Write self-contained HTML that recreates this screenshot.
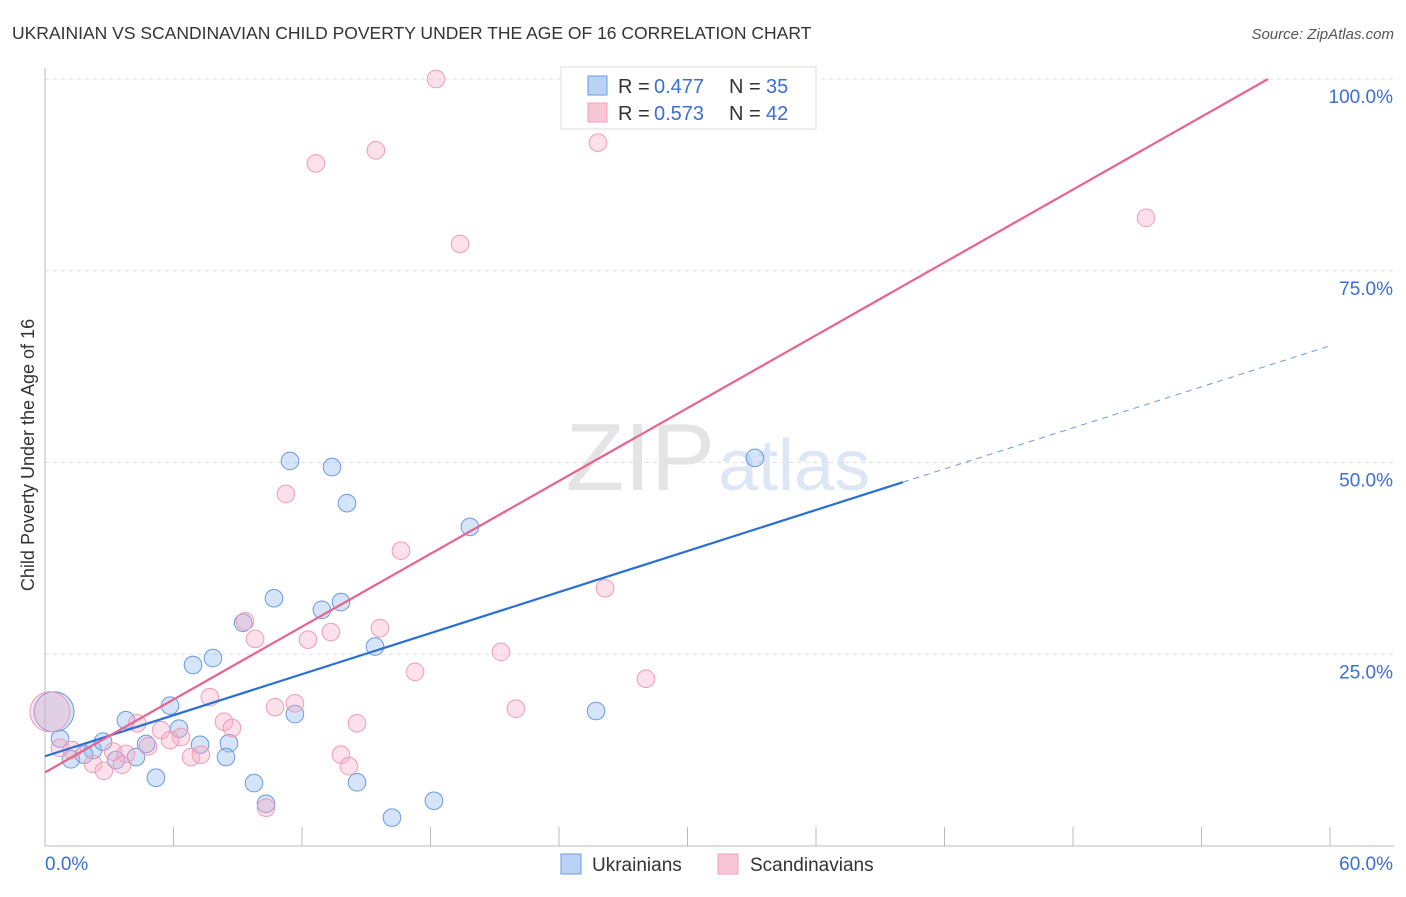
<!DOCTYPE html>
<html><head><meta charset="utf-8"><style>
body{margin:0;background:#fff;font-family:"Liberation Sans",sans-serif;}
svg text{font-family:"Liberation Sans",sans-serif;}
</style></head><body>
<svg width="1406" height="892" xmlns="http://www.w3.org/2000/svg">
<text x="12" y="39" font-size="17.5" fill="#333">UKRAINIAN VS SCANDINAVIAN CHILD POVERTY UNDER THE AGE OF 16 CORRELATION CHART</text>
<text x="1394" y="39" font-size="15" fill="#555" font-style="italic" text-anchor="end">Source: ZipAtlas.com</text>
<g id="grid"></g>
<text x="715" y="490" font-size="96" fill="#e4e4e4" text-anchor="end" font-family="Liberation Serif">ZIP</text>
<text x="718" y="490" font-size="72" fill="#dce6f4">atlas</text>
<g id="marks"></g>
<text transform="translate(34,455) rotate(-90)" font-size="18" fill="#333" text-anchor="middle">Child Poverty Under the Age of 16</text>
<g>
<rect x="561" y="67" width="255" height="62" fill="#fff" stroke="#ddd"/>
<rect x="588" y="76" width="19" height="19" fill="#b9d2f5" stroke="#6a9ae0"/>
<rect x="588" y="103" width="19" height="19" fill="#f9c6d6" stroke="#f0a0b8"/>
<text x="618" y="93" font-size="20" fill="#333">R =</text><text x="654" y="93" font-size="20" fill="#3a6fd4">0.477</text>
<text x="729" y="93" font-size="20" fill="#333">N =</text><text x="766" y="93" font-size="20" fill="#3a6fd4">35</text>
<text x="618" y="120" font-size="20" fill="#333">R =</text><text x="654" y="120" font-size="20" fill="#3a6fd4">0.573</text>
<text x="729" y="120" font-size="20" fill="#333">N =</text><text x="766" y="120" font-size="20" fill="#3a6fd4">42</text>
</g>
<g>
<rect x="561" y="854" width="20" height="20" fill="#b9d2f5" stroke="#6a9ae0"/>
<text x="592" y="871" font-size="19" fill="#333">Ukrainians</text>
<rect x="718" y="854" width="20" height="20" fill="#f9c6d6" stroke="#f0a0b8"/>
<text x="750" y="871" font-size="19" fill="#333">Scandinavians</text>
</g>
</svg>
<script>
const blueX=[11.44,13.40,14.10,19.84,33.15,10.69,12.93,13.82,9.25,15.41,6.91,7.84,5.84,3.78,6.26,11.67,4.72,7.24,8.59,0.70,1.21,2.24,2.71,3.32,4.25,5.18,8.45,9.76,10.32,14.57,16.20,18.16,25.73,0.42,1.82];
const blueY=[50.2,49.4,44.7,41.6,50.6,32.3,30.8,31.8,29.1,26.0,23.6,24.5,18.3,16.4,15.3,17.2,13.3,13.2,13.4,14.0,11.3,12.5,13.6,11.2,11.6,8.9,11.6,8.2,5.5,8.3,3.7,5.9,17.6,17.5,11.9];
const blueBig=[33];
const pinkX=[18.26,12.65,15.45,25.82,19.38,51.41,11.25,16.62,26.15,9.34,9.81,13.35,12.28,15.64,21.29,17.28,28.06,7.70,11.67,10.74,21.99,8.36,8.73,4.30,14.57,5.42,6.35,5.84,4.81,6.82,7.28,3.18,3.60,3.78,2.24,2.75,13.82,14.19,10.32,0.70,1.26,0.23];
const pinkY=[100.0,89.0,90.7,91.7,78.5,81.9,45.9,38.5,33.6,29.3,27.0,27.9,26.9,28.4,25.3,22.7,21.8,19.4,18.6,18.1,17.9,16.2,15.4,16.0,16.0,15.1,14.2,13.8,13.0,11.6,11.9,12.3,10.6,12.0,10.7,9.8,11.9,10.4,5.0,12.8,12.5,17.5];
const pinkBig=[41];
const blueTrend=[11.7,0.892]; // intercept, slope
const pinkTrend=[9.6,1.583];
const yTicks=[25,50,75,100];
const yTickLabels=["25.0%","50.0%","75.0%","100.0%"];
const xTicks=[0,6,12,18,24,30,36,42,48,54,60];
const NS="http://www.w3.org/2000/svg";
const X=v=>45+v*1285/60;
const Y=v=>846-v*7.67;
function mk(tag,attrs,parent){const e=document.createElementNS(NS,tag);for(const k in attrs)e.setAttribute(k,attrs[k]);parent.appendChild(e);return e;}
const grid=document.getElementById('grid');const marks=document.getElementById('marks');const svg=document.querySelector('svg');
yTicks.forEach((t,i)=>{const l=mk('line',{x1:45,x2:1394,y1:Y(t),y2:Y(t),stroke:'#ddd','stroke-dasharray':'4,4'},grid);


const tx=mk('text',{x:1393,y:Y(t)+24,'font-size':19,fill:'#3a6fd4','text-anchor':'end'},svg);tx.textContent=yTickLabels[i];

});
const ax=mk('line',{x1:45,x2:1394,y1:846,y2:846,stroke:'#bbb'},grid);


const ay=mk('line',{x1:45,x2:45,y1:68,y2:846,stroke:'#bbb'},grid);


xTicks.forEach(t=>{const l=mk('line',{x1:X(t),x2:X(t),y1:827,y2:846,stroke:'#bbb'},grid);

});
const xl0=mk('text',{x:45,y:870,'font-size':19,fill:'#3a6fd4'},svg);xl0.textContent=xTicks[0].toFixed(1)+"%";


const xl1=mk('text',{x:1393,y:870,'font-size':19,fill:'#3a6fd4','text-anchor':'end'},svg);xl1.textContent=xTicks[xTicks.length-1].toFixed(1)+"%";


function pts(xs,ys,big,fill,stroke,name){xs.forEach((x,i)=>{const c=mk('circle',{cx:X(x),cy:Y(ys[i]),r:big.includes(i)?20:8.8,fill:fill,stroke:stroke,'stroke-width':1},marks);

});}
pts(blueX,blueY,blueBig,'rgba(150,188,238,0.4)','#6a9ae0','ukrainian-point');
pts(pinkX,pinkY,pinkBig,'rgba(247,168,194,0.35)','#ef9cb6','scandinavian-point');
const bEnd=40.06;
const b1=mk('line',{x1:X(0),y1:Y(blueTrend[0]),x2:X(bEnd),y2:Y(blueTrend[0]+blueTrend[1]*bEnd),stroke:'#2a6fd6','stroke-width':2.2},marks);


const b2=mk('line',{x1:X(bEnd),y1:Y(blueTrend[0]+blueTrend[1]*bEnd),x2:X(60),y2:Y(blueTrend[0]+blueTrend[1]*60),stroke:'#6a9ae0','stroke-width':1,'stroke-dasharray':'6,5'},marks);


const pEnd=(100-pinkTrend[0])/pinkTrend[1];
const p1=mk('line',{x1:X(0),y1:Y(pinkTrend[0]),x2:X(pEnd),y2:Y(100),stroke:'#e8648f','stroke-width':2.2},marks);


</script>
</body></html>
